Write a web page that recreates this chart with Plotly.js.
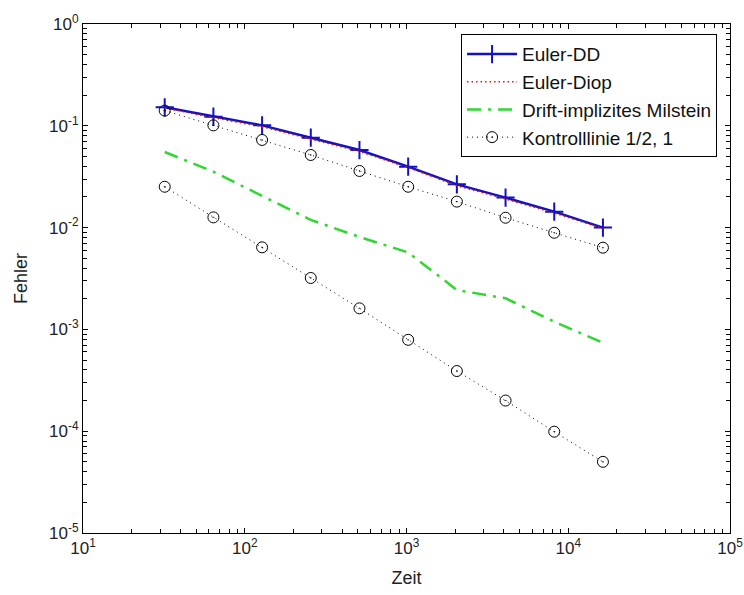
<!DOCTYPE html>
<html>
<head>
<meta charset="utf-8">
<script src="https://cdn.plot.ly/plotly-3.0.1.min.js"></script>
<style>html,body{margin:0;padding:0;background:#fff;}#chart{width:744px;height:595px;}</style>
</head>
<body>
<div id="chart"></div>
<script>
var zeit = [32, 64, 128, 256, 512, 1024, 2048, 4096, 8192, 16384];
var eulerDD = [0.152, 0.123, 0.101, 0.0764, 0.0578, 0.0397, 0.0266, 0.0197, 0.01435, 0.0100];
var eulerDiop = [0.150, 0.120, 0.098, 0.0745, 0.0560, 0.0388, 0.0258, 0.0191, 0.0139, 0.0098];
var milstein = [0.0553, 0.0354, 0.0205, 0.0119, 0.0081, 0.0057, 0.00244, 0.00202, 0.00119, 0.00074];
var kontroll1 = [0.141, 0.101, 0.0726, 0.0517, 0.0360, 0.0252, 0.0180, 0.0125, 0.0089, 0.00635];
var kontroll2 = [0.0252, 0.0126, 0.0064, 0.0032, 0.00161, 0.00079, 0.00039, 0.0002, 0.0000989, 0.00005];
var names = ['Euler-DD', 'Euler-Diop', 'Drift-implizites Milstein', 'Kontrolllinie 1/2, 1'];
var xExponents = [1, 2, 3, 4, 5];
var yExponents = [-5, -4, -3, -2, -1, 0];

function majorVals(exps) { return exps.map(function (e) { return Math.pow(10, e); }); }
function majorText(exps) { return exps.map(function (e) { return '10<sup>' + e + '</sup>'; }); }
function minorVals(exps) {
  var v = [];
  for (var i = 0; i < exps.length - 1; i++) {
    for (var m = 2; m <= 9; m++) v.push(m * Math.pow(10, exps[i]));
  }
  return v;
}

var FONT = 'Liberation Sans, Arial, Helvetica, sans-serif';

var traces = [
  {x: zeit, y: eulerDD, name: names[0], legendgroup: 'a', mode: 'lines+markers',
   line: {color: '#1212c4', width: 2.5},
   marker: {symbol: 'cross-thin-open', size: 13, line: {color: '#1212c4', width: 2}}},
  {x: zeit, y: eulerDiop, name: names[1], legendgroup: 'b', mode: 'lines',
   line: {color: '#e01010', width: 1.5, dash: '1.5px,3px'}},
  {x: zeit, y: milstein, name: names[2], legendgroup: 'c', mode: 'lines',
   line: {color: '#2fd82f', width: 2.5, dash: '14px,7px,3px,7px'}},
  {x: zeit, y: kontroll1, name: names[3], legendgroup: 'd', mode: 'lines+markers',
   line: {color: '#000000', width: 1, dash: '1px,4px'},
   marker: {symbol: 'circle-open-dot', size: 11, color: '#000000', line: {color: '#000000', width: 1}}},
  {x: zeit, y: kontroll2, name: names[3], legendgroup: 'd', showlegend: false, mode: 'lines+markers',
   line: {color: '#000000', width: 1, dash: '1px,4px'},
   marker: {symbol: 'circle-open-dot', size: 11, color: '#000000', line: {color: '#000000', width: 1}}}
];

function axis(exps, extra) {
  return Object.assign({
    type: 'log', showgrid: false, zeroline: false, showline: true, linecolor: '#000', linewidth: 1,
    mirror: 'allticks', ticks: 'inside', ticklen: 5, tickcolor: '#000',
    tickmode: 'array', tickvals: majorVals(exps), ticktext: majorText(exps),
    minor: {ticks: 'inside', ticklen: 4, tickcolor: '#000', showgrid: false,
            tickmode: 'array', tickvals: minorVals(exps)},
    tickfont: {family: FONT, size: 17, color: '#222'}
  }, extra);
}

var layout = {
  width: 744, height: 595,
  margin: {l: 83, r: 14, t: 24, b: 62},
  paper_bgcolor: '#fff', plot_bgcolor: '#fff',
  font: {family: FONT, size: 17, color: '#222'},
  showlegend: true,
  xaxis: axis(xExponents, {range: [1, 5],
    title: {text: 'Zeit', font: {family: FONT, size: 18, color: '#222'}, standoff: 13}}),
  yaxis: axis(yExponents, {range: [-5, 0],
    title: {text: 'Fehler', font: {family: FONT, size: 18, color: '#222'}, standoff: 16}}),
  legend: {x: 0.98, y: 0.98, xanchor: 'right', yanchor: 'top',
    bgcolor: '#fff', bordercolor: '#000', borderwidth: 1,
    traceorder: 'grouped', tracegroupgap: 0, itemwidth: 50,
    font: {family: FONT, size: 19, color: '#111'}}
};

Plotly.newPlot('chart', traces, layout, {displayModeBar: false, staticPlot: true});
</script>
</body>
</html>
